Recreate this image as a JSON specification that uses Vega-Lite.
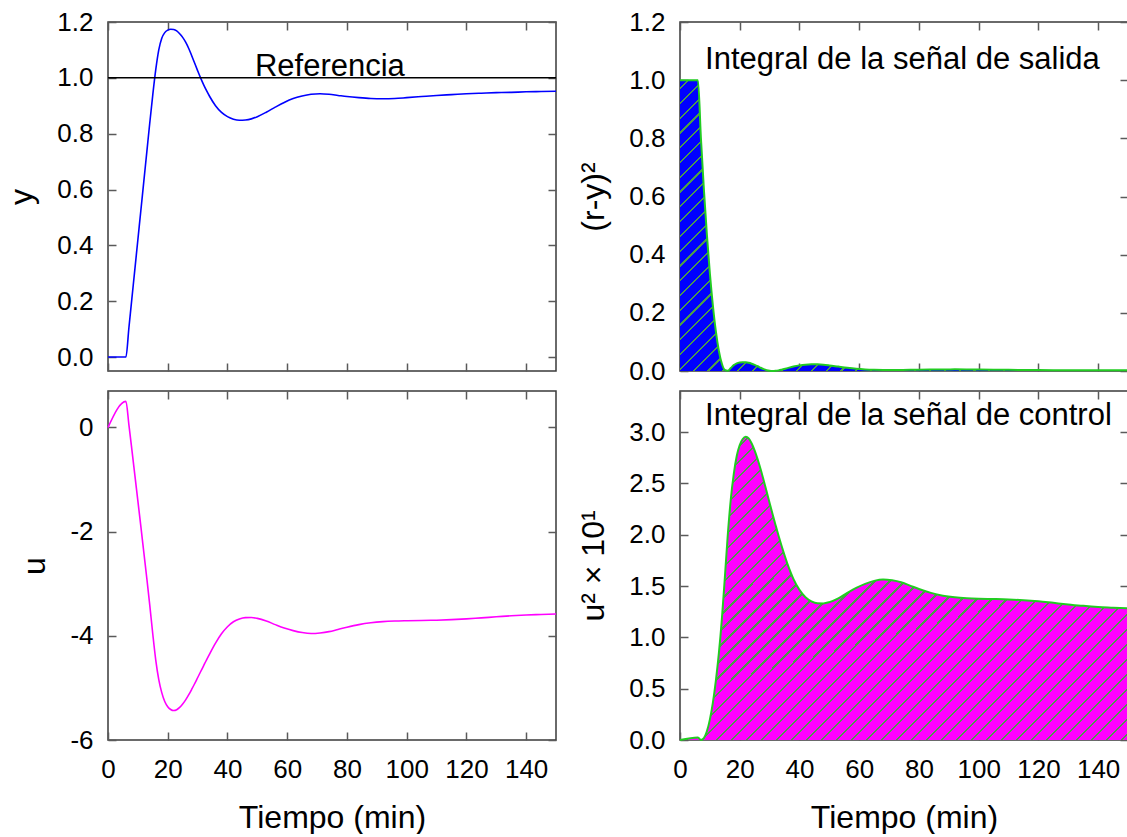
{
  "$schema": "https://vega.github.io/schema/vega-lite/v6.json",
  "background": "white",
  "padding": {"left": 5, "top": 8, "right": 0, "bottom": 0},
  "config": {
    "font": "Liberation Sans",
    "view": {"stroke": "#3a3a3a", "strokeWidth": 1.5},
    "axis": {
      "domain": false, "grid": false, "ticks": true, "tickSize": 8, "offset": -8, "tickColor": "#5a5a5a", "tickWidth": 1.5,
      "labelFont": "Liberation Sans", "labelFontSize": 26, "labelColor": "#000000", "labelPadding": 15,
      "labelFlush": false, "labelOverlap": false, "labelBound": false,
      "titleFont": "Liberation Sans", "titleFontSize": 32, "titleFontWeight": "normal", "titleColor": "#000000", "titlePadding": 18
    },
    "axisX": {"labelPadding": 16, "titlePadding": 20},
    "text": {"font": "Liberation Sans"}
  },
  "datasets": {
    "resp": [
      {"t": 0, "y": 0, "e2": 1, "u": 0, "u2": 0},
      {"t": 6, "y": 0, "e2": 1, "u": 0.5, "u2": 0.025},
      {"t": 7, "y": 0.105, "e2": 0.801, "u": 0.05, "u2": 0.0003},
      {"t": 8, "y": 0.21, "e2": 0.624, "u": -0.43, "u2": 0.0185},
      {"t": 9, "y": 0.315, "e2": 0.469, "u": -0.92, "u2": 0.0846},
      {"t": 10, "y": 0.42, "e2": 0.336, "u": -1.41, "u2": 0.1988},
      {"t": 11, "y": 0.525, "e2": 0.226, "u": -1.9, "u2": 0.361},
      {"t": 12, "y": 0.63, "e2": 0.137, "u": -2.4, "u2": 0.576},
      {"t": 13, "y": 0.735, "e2": 0.07, "u": -2.9, "u2": 0.841},
      {"t": 14, "y": 0.84, "e2": 0.0256, "u": -3.42, "u2": 1.17},
      {"t": 15, "y": 0.94, "e2": 0.0036, "u": -3.97, "u2": 1.576},
      {"t": 16, "y": 1.03, "e2": 0.0009, "u": -4.47, "u2": 1.998},
      {"t": 17, "y": 1.1, "e2": 0.01, "u": -4.84, "u2": 2.343},
      {"t": 18, "y": 1.142, "e2": 0.0202, "u": -5.09, "u2": 2.591},
      {"t": 19, "y": 1.162, "e2": 0.0262, "u": -5.26, "u2": 2.767},
      {"t": 20, "y": 1.171, "e2": 0.0292, "u": -5.36, "u2": 2.873},
      {"t": 21, "y": 1.174, "e2": 0.0303, "u": -5.415, "u2": 2.932},
      {"t": 22, "y": 1.173, "e2": 0.0299, "u": -5.435, "u2": 2.954},
      {"t": 23, "y": 1.168, "e2": 0.0282, "u": -5.42, "u2": 2.938},
      {"t": 24, "y": 1.158, "e2": 0.025, "u": -5.375, "u2": 2.889},
      {"t": 25, "y": 1.145, "e2": 0.021, "u": -5.31, "u2": 2.82},
      {"t": 26, "y": 1.128, "e2": 0.0164, "u": -5.23, "u2": 2.735},
      {"t": 27, "y": 1.106, "e2": 0.0112, "u": -5.135, "u2": 2.637},
      {"t": 28, "y": 1.08, "e2": 0.0064, "u": -5.03, "u2": 2.53},
      {"t": 29, "y": 1.053, "e2": 0.0028, "u": -4.92, "u2": 2.421},
      {"t": 30, "y": 1.026, "e2": 0.0007, "u": -4.805, "u2": 2.309},
      {"t": 31, "y": 1.0, "e2": 0, "u": -4.69, "u2": 2.2},
      {"t": 32, "y": 0.976, "e2": 0.0006, "u": -4.575, "u2": 2.093},
      {"t": 33, "y": 0.954, "e2": 0.0021, "u": -4.46, "u2": 1.989},
      {"t": 34, "y": 0.934, "e2": 0.0044, "u": -4.35, "u2": 1.892},
      {"t": 36, "y": 0.9, "e2": 0.01, "u": -4.14, "u2": 1.714},
      {"t": 38, "y": 0.876, "e2": 0.0154, "u": -3.96, "u2": 1.568},
      {"t": 40, "y": 0.861, "e2": 0.0193, "u": -3.825, "u2": 1.463},
      {"t": 42, "y": 0.852, "e2": 0.0219, "u": -3.73, "u2": 1.391},
      {"t": 44, "y": 0.848, "e2": 0.0231, "u": -3.675, "u2": 1.351},
      {"t": 46, "y": 0.849, "e2": 0.0228, "u": -3.65, "u2": 1.332},
      {"t": 48, "y": 0.853, "e2": 0.0216, "u": -3.648, "u2": 1.331},
      {"t": 50, "y": 0.861, "e2": 0.0193, "u": -3.665, "u2": 1.343},
      {"t": 53, "y": 0.877, "e2": 0.0151, "u": -3.715, "u2": 1.38},
      {"t": 56, "y": 0.895, "e2": 0.011, "u": -3.785, "u2": 1.433},
      {"t": 59, "y": 0.912, "e2": 0.0077, "u": -3.85, "u2": 1.482},
      {"t": 62, "y": 0.926, "e2": 0.0055, "u": -3.9, "u2": 1.521},
      {"t": 65, "y": 0.935, "e2": 0.0042, "u": -3.937, "u2": 1.55},
      {"t": 68, "y": 0.941, "e2": 0.0035, "u": -3.955, "u2": 1.564},
      {"t": 71, "y": 0.943, "e2": 0.0032, "u": -3.945, "u2": 1.556},
      {"t": 74, "y": 0.941, "e2": 0.0035, "u": -3.92, "u2": 1.537},
      {"t": 77, "y": 0.937, "e2": 0.004, "u": -3.878, "u2": 1.504},
      {"t": 80, "y": 0.933, "e2": 0.0045, "u": -3.835, "u2": 1.471},
      {"t": 84, "y": 0.929, "e2": 0.005, "u": -3.785, "u2": 1.433},
      {"t": 88, "y": 0.926, "e2": 0.0055, "u": -3.75, "u2": 1.406},
      {"t": 92, "y": 0.925, "e2": 0.0056, "u": -3.728, "u2": 1.39},
      {"t": 96, "y": 0.926, "e2": 0.0055, "u": -3.716, "u2": 1.381},
      {"t": 100, "y": 0.929, "e2": 0.005, "u": -3.71, "u2": 1.376},
      {"t": 105, "y": 0.933, "e2": 0.0045, "u": -3.705, "u2": 1.373},
      {"t": 110, "y": 0.937, "e2": 0.004, "u": -3.7, "u2": 1.369},
      {"t": 115, "y": 0.94, "e2": 0.0036, "u": -3.69, "u2": 1.362},
      {"t": 120, "y": 0.943, "e2": 0.0032, "u": -3.675, "u2": 1.351},
      {"t": 125, "y": 0.945, "e2": 0.003, "u": -3.655, "u2": 1.336},
      {"t": 130, "y": 0.947, "e2": 0.0028, "u": -3.635, "u2": 1.321},
      {"t": 135, "y": 0.948, "e2": 0.0027, "u": -3.615, "u2": 1.307},
      {"t": 140, "y": 0.95, "e2": 0.0025, "u": -3.6, "u2": 1.296},
      {"t": 145, "y": 0.951, "e2": 0.0024, "u": -3.59, "u2": 1.289},
      {"t": 150, "y": 0.952, "e2": 0.0023, "u": -3.58, "u2": 1.282}
    ]
  },
  "columns": 2,
  "bounds": "flush",
  "spacing": {"row": 20, "column": 124},
  "concat": [
    {
      "width": 448, "height": 349,
      "data": {"name": "resp"},
      "layer": [
        {
          "mark": {"type": "line", "color": "#0000ff", "strokeWidth": 1.6, "interpolate": "monotone"},
          "encoding": {
            "x": {"field": "t", "type": "quantitative", "scale": {"domain": [0, 150], "nice": false, "zero": false},
                  "axis": {"orient": "bottom", "values": [0, 20, 40, 60, 80, 100, 120, 140], "labels": false, "title": null}},
            "y": {"field": "y", "type": "quantitative", "scale": {"domain": [-0.05, 1.2], "nice": false, "zero": false},
                  "axis": {"orient": "left", "values": [0, 0.2, 0.4, 0.6, 0.8, 1, 1.2], "format": ".1f", "title": "y"}}
          }
        },
        {
          "data": {"values": [{}]},
          "mark": {"type": "rule", "color": "#000000", "strokeWidth": 1.5},
          "encoding": {"y": {"datum": 1, "type": "quantitative", "axis": null}}
        },
        {
          "data": {"values": [{}]},
          "mark": {"type": "text", "align": "left", "baseline": "alphabetic", "dy": -2, "fontSize": 31, "color": "#000000"},
          "encoding": {
            "x": {"datum": 49.2, "type": "quantitative", "axis": null},
            "y": {"datum": 1, "type": "quantitative", "axis": null},
            "text": {"value": "Referencia"}
          }
        },
        {
          "mark": {"type": "line", "strokeOpacity": 0},
          "encoding": {
            "x": {"field": "t", "type": "quantitative", "axis": {"orient": "top", "values": [0, 20, 40, 60, 80, 100, 120, 140], "labels": false, "title": null}},
            "y": {"field": "y", "type": "quantitative", "axis": {"orient": "right", "values": [0, 0.2, 0.4, 0.6, 0.8, 1, 1.2], "labels": false, "title": null}}
          }
        }
      ],
      "resolve": {"axis": {"x": "independent", "y": "independent"}}
    },
    {
      "width": 448, "height": 349,
      "data": {"name": "resp"},
      "layer": [
        {
          "mark": {"type": "area", "interpolate": "monotone", "opacity": 1, "stroke": null,
            "fill": {"gradient": "linear", "x1": 0, "y1": 0, "x2": 1.1602, "y2": 0.7531, "stops": [
              {"offset": 0, "color": "#0000ff"},
              {"offset": 0.01, "color": "#0000ff"}, {"offset": 0.01, "color": "#4c9a4c"}, {"offset": 0.013, "color": "#4c9a4c"}, {"offset": 0.013, "color": "#0000ff"},
              {"offset": 0.03, "color": "#0000ff"}, {"offset": 0.03, "color": "#4c9a4c"}, {"offset": 0.033, "color": "#4c9a4c"}, {"offset": 0.033, "color": "#0000ff"},
              {"offset": 0.05, "color": "#0000ff"}, {"offset": 0.05, "color": "#4c9a4c"}, {"offset": 0.053, "color": "#4c9a4c"}, {"offset": 0.053, "color": "#0000ff"},
              {"offset": 0.07, "color": "#0000ff"}, {"offset": 0.07, "color": "#4c9a4c"}, {"offset": 0.073, "color": "#4c9a4c"}, {"offset": 0.073, "color": "#0000ff"},
              {"offset": 0.09, "color": "#0000ff"}, {"offset": 0.09, "color": "#4c9a4c"}, {"offset": 0.093, "color": "#4c9a4c"}, {"offset": 0.093, "color": "#0000ff"},
              {"offset": 0.11, "color": "#0000ff"}, {"offset": 0.11, "color": "#4c9a4c"}, {"offset": 0.113, "color": "#4c9a4c"}, {"offset": 0.113, "color": "#0000ff"},
              {"offset": 0.13, "color": "#0000ff"}, {"offset": 0.13, "color": "#4c9a4c"}, {"offset": 0.133, "color": "#4c9a4c"}, {"offset": 0.133, "color": "#0000ff"},
              {"offset": 0.15, "color": "#0000ff"}, {"offset": 0.15, "color": "#4c9a4c"}, {"offset": 0.153, "color": "#4c9a4c"}, {"offset": 0.153, "color": "#0000ff"},
              {"offset": 0.17, "color": "#0000ff"}, {"offset": 0.17, "color": "#4c9a4c"}, {"offset": 0.173, "color": "#4c9a4c"}, {"offset": 0.173, "color": "#0000ff"},
              {"offset": 0.19, "color": "#0000ff"}, {"offset": 0.19, "color": "#4c9a4c"}, {"offset": 0.193, "color": "#4c9a4c"}, {"offset": 0.193, "color": "#0000ff"},
              {"offset": 0.21, "color": "#0000ff"}, {"offset": 0.21, "color": "#4c9a4c"}, {"offset": 0.213, "color": "#4c9a4c"}, {"offset": 0.213, "color": "#0000ff"},
              {"offset": 0.23, "color": "#0000ff"}, {"offset": 0.23, "color": "#4c9a4c"}, {"offset": 0.233, "color": "#4c9a4c"}, {"offset": 0.233, "color": "#0000ff"},
              {"offset": 0.25, "color": "#0000ff"}, {"offset": 0.25, "color": "#4c9a4c"}, {"offset": 0.253, "color": "#4c9a4c"}, {"offset": 0.253, "color": "#0000ff"},
              {"offset": 0.27, "color": "#0000ff"}, {"offset": 0.27, "color": "#4c9a4c"}, {"offset": 0.273, "color": "#4c9a4c"}, {"offset": 0.273, "color": "#0000ff"},
              {"offset": 0.29, "color": "#0000ff"}, {"offset": 0.29, "color": "#4c9a4c"}, {"offset": 0.293, "color": "#4c9a4c"}, {"offset": 0.293, "color": "#0000ff"},
              {"offset": 0.31, "color": "#0000ff"}, {"offset": 0.31, "color": "#4c9a4c"}, {"offset": 0.313, "color": "#4c9a4c"}, {"offset": 0.313, "color": "#0000ff"},
              {"offset": 0.33, "color": "#0000ff"}, {"offset": 0.33, "color": "#4c9a4c"}, {"offset": 0.333, "color": "#4c9a4c"}, {"offset": 0.333, "color": "#0000ff"},
              {"offset": 0.35, "color": "#0000ff"}, {"offset": 0.35, "color": "#4c9a4c"}, {"offset": 0.353, "color": "#4c9a4c"}, {"offset": 0.353, "color": "#0000ff"},
              {"offset": 0.37, "color": "#0000ff"}, {"offset": 0.37, "color": "#4c9a4c"}, {"offset": 0.373, "color": "#4c9a4c"}, {"offset": 0.373, "color": "#0000ff"},
              {"offset": 0.39, "color": "#0000ff"}, {"offset": 0.39, "color": "#4c9a4c"}, {"offset": 0.393, "color": "#4c9a4c"}, {"offset": 0.393, "color": "#0000ff"},
              {"offset": 0.41, "color": "#0000ff"}, {"offset": 0.41, "color": "#4c9a4c"}, {"offset": 0.413, "color": "#4c9a4c"}, {"offset": 0.413, "color": "#0000ff"},
              {"offset": 0.43, "color": "#0000ff"}, {"offset": 0.43, "color": "#4c9a4c"}, {"offset": 0.433, "color": "#4c9a4c"}, {"offset": 0.433, "color": "#0000ff"},
              {"offset": 0.45, "color": "#0000ff"}, {"offset": 0.45, "color": "#4c9a4c"}, {"offset": 0.453, "color": "#4c9a4c"}, {"offset": 0.453, "color": "#0000ff"},
              {"offset": 0.47, "color": "#0000ff"}, {"offset": 0.47, "color": "#4c9a4c"}, {"offset": 0.473, "color": "#4c9a4c"}, {"offset": 0.473, "color": "#0000ff"},
              {"offset": 0.49, "color": "#0000ff"}, {"offset": 0.49, "color": "#4c9a4c"}, {"offset": 0.493, "color": "#4c9a4c"}, {"offset": 0.493, "color": "#0000ff"},
              {"offset": 0.51, "color": "#0000ff"}, {"offset": 0.51, "color": "#4c9a4c"}, {"offset": 0.513, "color": "#4c9a4c"}, {"offset": 0.513, "color": "#0000ff"},
              {"offset": 0.53, "color": "#0000ff"}, {"offset": 0.53, "color": "#4c9a4c"}, {"offset": 0.533, "color": "#4c9a4c"}, {"offset": 0.533, "color": "#0000ff"},
              {"offset": 0.55, "color": "#0000ff"}, {"offset": 0.55, "color": "#4c9a4c"}, {"offset": 0.553, "color": "#4c9a4c"}, {"offset": 0.553, "color": "#0000ff"},
              {"offset": 0.57, "color": "#0000ff"}, {"offset": 0.57, "color": "#4c9a4c"}, {"offset": 0.573, "color": "#4c9a4c"}, {"offset": 0.573, "color": "#0000ff"},
              {"offset": 0.59, "color": "#0000ff"}, {"offset": 0.59, "color": "#4c9a4c"}, {"offset": 0.593, "color": "#4c9a4c"}, {"offset": 0.593, "color": "#0000ff"},
              {"offset": 0.61, "color": "#0000ff"}, {"offset": 0.61, "color": "#4c9a4c"}, {"offset": 0.613, "color": "#4c9a4c"}, {"offset": 0.613, "color": "#0000ff"},
              {"offset": 0.63, "color": "#0000ff"}, {"offset": 0.63, "color": "#4c9a4c"}, {"offset": 0.633, "color": "#4c9a4c"}, {"offset": 0.633, "color": "#0000ff"},
              {"offset": 0.65, "color": "#0000ff"}, {"offset": 0.65, "color": "#4c9a4c"}, {"offset": 0.653, "color": "#4c9a4c"}, {"offset": 0.653, "color": "#0000ff"},
              {"offset": 0.67, "color": "#0000ff"}, {"offset": 0.67, "color": "#4c9a4c"}, {"offset": 0.673, "color": "#4c9a4c"}, {"offset": 0.673, "color": "#0000ff"},
              {"offset": 0.69, "color": "#0000ff"}, {"offset": 0.69, "color": "#4c9a4c"}, {"offset": 0.693, "color": "#4c9a4c"}, {"offset": 0.693, "color": "#0000ff"},
              {"offset": 0.71, "color": "#0000ff"}, {"offset": 0.71, "color": "#4c9a4c"}, {"offset": 0.713, "color": "#4c9a4c"}, {"offset": 0.713, "color": "#0000ff"},
              {"offset": 0.73, "color": "#0000ff"}, {"offset": 0.73, "color": "#4c9a4c"}, {"offset": 0.733, "color": "#4c9a4c"}, {"offset": 0.733, "color": "#0000ff"},
              {"offset": 0.75, "color": "#0000ff"}, {"offset": 0.75, "color": "#4c9a4c"}, {"offset": 0.753, "color": "#4c9a4c"}, {"offset": 0.753, "color": "#0000ff"},
              {"offset": 0.77, "color": "#0000ff"}, {"offset": 0.77, "color": "#4c9a4c"}, {"offset": 0.773, "color": "#4c9a4c"}, {"offset": 0.773, "color": "#0000ff"},
              {"offset": 0.79, "color": "#0000ff"}, {"offset": 0.79, "color": "#4c9a4c"}, {"offset": 0.793, "color": "#4c9a4c"}, {"offset": 0.793, "color": "#0000ff"},
              {"offset": 0.81, "color": "#0000ff"}, {"offset": 0.81, "color": "#4c9a4c"}, {"offset": 0.813, "color": "#4c9a4c"}, {"offset": 0.813, "color": "#0000ff"},
              {"offset": 0.83, "color": "#0000ff"}, {"offset": 0.83, "color": "#4c9a4c"}, {"offset": 0.833, "color": "#4c9a4c"}, {"offset": 0.833, "color": "#0000ff"},
              {"offset": 0.85, "color": "#0000ff"}, {"offset": 0.85, "color": "#4c9a4c"}, {"offset": 0.853, "color": "#4c9a4c"}, {"offset": 0.853, "color": "#0000ff"},
              {"offset": 0.87, "color": "#0000ff"}, {"offset": 0.87, "color": "#4c9a4c"}, {"offset": 0.873, "color": "#4c9a4c"}, {"offset": 0.873, "color": "#0000ff"},
              {"offset": 0.89, "color": "#0000ff"}, {"offset": 0.89, "color": "#4c9a4c"}, {"offset": 0.893, "color": "#4c9a4c"}, {"offset": 0.893, "color": "#0000ff"},
              {"offset": 0.91, "color": "#0000ff"}, {"offset": 0.91, "color": "#4c9a4c"}, {"offset": 0.913, "color": "#4c9a4c"}, {"offset": 0.913, "color": "#0000ff"},
              {"offset": 0.93, "color": "#0000ff"}, {"offset": 0.93, "color": "#4c9a4c"}, {"offset": 0.933, "color": "#4c9a4c"}, {"offset": 0.933, "color": "#0000ff"},
              {"offset": 0.95, "color": "#0000ff"}, {"offset": 0.95, "color": "#4c9a4c"}, {"offset": 0.953, "color": "#4c9a4c"}, {"offset": 0.953, "color": "#0000ff"},
              {"offset": 0.97, "color": "#0000ff"}, {"offset": 0.97, "color": "#4c9a4c"}, {"offset": 0.973, "color": "#4c9a4c"}, {"offset": 0.973, "color": "#0000ff"},
              {"offset": 0.99, "color": "#0000ff"}, {"offset": 0.99, "color": "#4c9a4c"}, {"offset": 0.993, "color": "#4c9a4c"}, {"offset": 0.993, "color": "#0000ff"},
              {"offset": 1, "color": "#0000ff"}
            ]}},
          "encoding": {
            "x": {"field": "t", "type": "quantitative", "scale": {"domain": [0, 150], "nice": false, "zero": false},
                  "axis": {"orient": "bottom", "values": [0, 20, 40, 60, 80, 100, 120, 140], "labels": false, "title": null}},
            "y": {"field": "e2", "type": "quantitative", "scale": {"domain": [0, 1.2], "nice": false},
                  "axis": {"orient": "left", "values": [0, 0.2, 0.4, 0.6, 0.8, 1, 1.2], "format": ".1f", "title": "(r-y)²"}}
          }
        },
        {
          "mark": {"type": "line", "color": "#22cc22", "strokeWidth": 2, "interpolate": "monotone"},
          "encoding": {
            "x": {"field": "t", "type": "quantitative", "axis": null},
            "y": {"field": "e2", "type": "quantitative", "axis": null}
          }
        },
        {
          "data": {"values": [{}]},
          "mark": {"type": "text", "align": "left", "baseline": "alphabetic", "fontSize": 31, "color": "#000000"},
          "encoding": {
            "x": {"datum": 8.4, "type": "quantitative", "axis": null},
            "y": {"datum": 1.04, "type": "quantitative", "axis": null},
            "text": {"value": "Integral de la señal de salida"}
          }
        },
        {
          "mark": {"type": "line", "strokeOpacity": 0},
          "encoding": {
            "x": {"field": "t", "type": "quantitative", "axis": {"orient": "top", "values": [0, 20, 40, 60, 80, 100, 120, 140], "labels": false, "title": null}},
            "y": {"field": "e2", "type": "quantitative", "axis": {"orient": "right", "values": [0, 0.2, 0.4, 0.6, 0.8, 1, 1.2], "labels": false, "title": null}}
          }
        }
      ],
      "resolve": {"axis": {"x": "independent", "y": "independent"}}
    },
    {
      "width": 448, "height": 349,
      "data": {"name": "resp"},
      "layer": [
        {
          "mark": {"type": "line", "color": "#ff00ff", "strokeWidth": 1.6, "interpolate": "monotone"},
          "encoding": {
            "x": {"field": "t", "type": "quantitative", "scale": {"domain": [0, 150], "nice": false, "zero": false},
                  "axis": {"orient": "bottom", "values": [0, 20, 40, 60, 80, 100, 120, 140], "title": "Tiempo (min)"}},
            "y": {"field": "u", "type": "quantitative", "scale": {"domain": [-6, 0.7], "nice": false, "zero": false},
                  "axis": {"orient": "left", "values": [-6, -4, -2, 0], "labelExpr": "'' + datum.value", "title": "u"}}
          }
        },
        {
          "mark": {"type": "line", "strokeOpacity": 0},
          "encoding": {
            "x": {"field": "t", "type": "quantitative", "axis": {"orient": "top", "values": [0, 20, 40, 60, 80, 100, 120, 140], "labels": false, "title": null}},
            "y": {"field": "u", "type": "quantitative", "axis": {"orient": "right", "values": [-6, -4, -2, 0], "labels": false, "title": null}}
          }
        }
      ],
      "resolve": {"axis": {"x": "independent", "y": "independent"}}
    },
    {
      "width": 448, "height": 349,
      "data": {"name": "resp"},
      "layer": [
        {
          "mark": {"type": "area", "interpolate": "monotone", "opacity": 1, "stroke": null,
            "fill": {"gradient": "linear", "x1": 0, "y1": 0, "x2": 1.1505, "y2": 0.7771, "stops": [
              {"offset": 0, "color": "#ff00ff"},
              {"offset": 0.01, "color": "#ff00ff"}, {"offset": 0.01, "color": "#4c9a4c"}, {"offset": 0.013, "color": "#4c9a4c"}, {"offset": 0.013, "color": "#ff00ff"},
              {"offset": 0.03, "color": "#ff00ff"}, {"offset": 0.03, "color": "#4c9a4c"}, {"offset": 0.033, "color": "#4c9a4c"}, {"offset": 0.033, "color": "#ff00ff"},
              {"offset": 0.05, "color": "#ff00ff"}, {"offset": 0.05, "color": "#4c9a4c"}, {"offset": 0.053, "color": "#4c9a4c"}, {"offset": 0.053, "color": "#ff00ff"},
              {"offset": 0.07, "color": "#ff00ff"}, {"offset": 0.07, "color": "#4c9a4c"}, {"offset": 0.073, "color": "#4c9a4c"}, {"offset": 0.073, "color": "#ff00ff"},
              {"offset": 0.09, "color": "#ff00ff"}, {"offset": 0.09, "color": "#4c9a4c"}, {"offset": 0.093, "color": "#4c9a4c"}, {"offset": 0.093, "color": "#ff00ff"},
              {"offset": 0.11, "color": "#ff00ff"}, {"offset": 0.11, "color": "#4c9a4c"}, {"offset": 0.113, "color": "#4c9a4c"}, {"offset": 0.113, "color": "#ff00ff"},
              {"offset": 0.13, "color": "#ff00ff"}, {"offset": 0.13, "color": "#4c9a4c"}, {"offset": 0.133, "color": "#4c9a4c"}, {"offset": 0.133, "color": "#ff00ff"},
              {"offset": 0.15, "color": "#ff00ff"}, {"offset": 0.15, "color": "#4c9a4c"}, {"offset": 0.153, "color": "#4c9a4c"}, {"offset": 0.153, "color": "#ff00ff"},
              {"offset": 0.17, "color": "#ff00ff"}, {"offset": 0.17, "color": "#4c9a4c"}, {"offset": 0.173, "color": "#4c9a4c"}, {"offset": 0.173, "color": "#ff00ff"},
              {"offset": 0.19, "color": "#ff00ff"}, {"offset": 0.19, "color": "#4c9a4c"}, {"offset": 0.193, "color": "#4c9a4c"}, {"offset": 0.193, "color": "#ff00ff"},
              {"offset": 0.21, "color": "#ff00ff"}, {"offset": 0.21, "color": "#4c9a4c"}, {"offset": 0.213, "color": "#4c9a4c"}, {"offset": 0.213, "color": "#ff00ff"},
              {"offset": 0.23, "color": "#ff00ff"}, {"offset": 0.23, "color": "#4c9a4c"}, {"offset": 0.233, "color": "#4c9a4c"}, {"offset": 0.233, "color": "#ff00ff"},
              {"offset": 0.25, "color": "#ff00ff"}, {"offset": 0.25, "color": "#4c9a4c"}, {"offset": 0.253, "color": "#4c9a4c"}, {"offset": 0.253, "color": "#ff00ff"},
              {"offset": 0.27, "color": "#ff00ff"}, {"offset": 0.27, "color": "#4c9a4c"}, {"offset": 0.273, "color": "#4c9a4c"}, {"offset": 0.273, "color": "#ff00ff"},
              {"offset": 0.29, "color": "#ff00ff"}, {"offset": 0.29, "color": "#4c9a4c"}, {"offset": 0.293, "color": "#4c9a4c"}, {"offset": 0.293, "color": "#ff00ff"},
              {"offset": 0.31, "color": "#ff00ff"}, {"offset": 0.31, "color": "#4c9a4c"}, {"offset": 0.313, "color": "#4c9a4c"}, {"offset": 0.313, "color": "#ff00ff"},
              {"offset": 0.33, "color": "#ff00ff"}, {"offset": 0.33, "color": "#4c9a4c"}, {"offset": 0.333, "color": "#4c9a4c"}, {"offset": 0.333, "color": "#ff00ff"},
              {"offset": 0.35, "color": "#ff00ff"}, {"offset": 0.35, "color": "#4c9a4c"}, {"offset": 0.353, "color": "#4c9a4c"}, {"offset": 0.353, "color": "#ff00ff"},
              {"offset": 0.37, "color": "#ff00ff"}, {"offset": 0.37, "color": "#4c9a4c"}, {"offset": 0.373, "color": "#4c9a4c"}, {"offset": 0.373, "color": "#ff00ff"},
              {"offset": 0.39, "color": "#ff00ff"}, {"offset": 0.39, "color": "#4c9a4c"}, {"offset": 0.393, "color": "#4c9a4c"}, {"offset": 0.393, "color": "#ff00ff"},
              {"offset": 0.41, "color": "#ff00ff"}, {"offset": 0.41, "color": "#4c9a4c"}, {"offset": 0.413, "color": "#4c9a4c"}, {"offset": 0.413, "color": "#ff00ff"},
              {"offset": 0.43, "color": "#ff00ff"}, {"offset": 0.43, "color": "#4c9a4c"}, {"offset": 0.433, "color": "#4c9a4c"}, {"offset": 0.433, "color": "#ff00ff"},
              {"offset": 0.45, "color": "#ff00ff"}, {"offset": 0.45, "color": "#4c9a4c"}, {"offset": 0.453, "color": "#4c9a4c"}, {"offset": 0.453, "color": "#ff00ff"},
              {"offset": 0.47, "color": "#ff00ff"}, {"offset": 0.47, "color": "#4c9a4c"}, {"offset": 0.473, "color": "#4c9a4c"}, {"offset": 0.473, "color": "#ff00ff"},
              {"offset": 0.49, "color": "#ff00ff"}, {"offset": 0.49, "color": "#4c9a4c"}, {"offset": 0.493, "color": "#4c9a4c"}, {"offset": 0.493, "color": "#ff00ff"},
              {"offset": 0.51, "color": "#ff00ff"}, {"offset": 0.51, "color": "#4c9a4c"}, {"offset": 0.513, "color": "#4c9a4c"}, {"offset": 0.513, "color": "#ff00ff"},
              {"offset": 0.53, "color": "#ff00ff"}, {"offset": 0.53, "color": "#4c9a4c"}, {"offset": 0.533, "color": "#4c9a4c"}, {"offset": 0.533, "color": "#ff00ff"},
              {"offset": 0.55, "color": "#ff00ff"}, {"offset": 0.55, "color": "#4c9a4c"}, {"offset": 0.553, "color": "#4c9a4c"}, {"offset": 0.553, "color": "#ff00ff"},
              {"offset": 0.57, "color": "#ff00ff"}, {"offset": 0.57, "color": "#4c9a4c"}, {"offset": 0.573, "color": "#4c9a4c"}, {"offset": 0.573, "color": "#ff00ff"},
              {"offset": 0.59, "color": "#ff00ff"}, {"offset": 0.59, "color": "#4c9a4c"}, {"offset": 0.593, "color": "#4c9a4c"}, {"offset": 0.593, "color": "#ff00ff"},
              {"offset": 0.61, "color": "#ff00ff"}, {"offset": 0.61, "color": "#4c9a4c"}, {"offset": 0.613, "color": "#4c9a4c"}, {"offset": 0.613, "color": "#ff00ff"},
              {"offset": 0.63, "color": "#ff00ff"}, {"offset": 0.63, "color": "#4c9a4c"}, {"offset": 0.633, "color": "#4c9a4c"}, {"offset": 0.633, "color": "#ff00ff"},
              {"offset": 0.65, "color": "#ff00ff"}, {"offset": 0.65, "color": "#4c9a4c"}, {"offset": 0.653, "color": "#4c9a4c"}, {"offset": 0.653, "color": "#ff00ff"},
              {"offset": 0.67, "color": "#ff00ff"}, {"offset": 0.67, "color": "#4c9a4c"}, {"offset": 0.673, "color": "#4c9a4c"}, {"offset": 0.673, "color": "#ff00ff"},
              {"offset": 0.69, "color": "#ff00ff"}, {"offset": 0.69, "color": "#4c9a4c"}, {"offset": 0.693, "color": "#4c9a4c"}, {"offset": 0.693, "color": "#ff00ff"},
              {"offset": 0.71, "color": "#ff00ff"}, {"offset": 0.71, "color": "#4c9a4c"}, {"offset": 0.713, "color": "#4c9a4c"}, {"offset": 0.713, "color": "#ff00ff"},
              {"offset": 0.73, "color": "#ff00ff"}, {"offset": 0.73, "color": "#4c9a4c"}, {"offset": 0.733, "color": "#4c9a4c"}, {"offset": 0.733, "color": "#ff00ff"},
              {"offset": 0.75, "color": "#ff00ff"}, {"offset": 0.75, "color": "#4c9a4c"}, {"offset": 0.753, "color": "#4c9a4c"}, {"offset": 0.753, "color": "#ff00ff"},
              {"offset": 0.77, "color": "#ff00ff"}, {"offset": 0.77, "color": "#4c9a4c"}, {"offset": 0.773, "color": "#4c9a4c"}, {"offset": 0.773, "color": "#ff00ff"},
              {"offset": 0.79, "color": "#ff00ff"}, {"offset": 0.79, "color": "#4c9a4c"}, {"offset": 0.793, "color": "#4c9a4c"}, {"offset": 0.793, "color": "#ff00ff"},
              {"offset": 0.81, "color": "#ff00ff"}, {"offset": 0.81, "color": "#4c9a4c"}, {"offset": 0.813, "color": "#4c9a4c"}, {"offset": 0.813, "color": "#ff00ff"},
              {"offset": 0.83, "color": "#ff00ff"}, {"offset": 0.83, "color": "#4c9a4c"}, {"offset": 0.833, "color": "#4c9a4c"}, {"offset": 0.833, "color": "#ff00ff"},
              {"offset": 0.85, "color": "#ff00ff"}, {"offset": 0.85, "color": "#4c9a4c"}, {"offset": 0.853, "color": "#4c9a4c"}, {"offset": 0.853, "color": "#ff00ff"},
              {"offset": 0.87, "color": "#ff00ff"}, {"offset": 0.87, "color": "#4c9a4c"}, {"offset": 0.873, "color": "#4c9a4c"}, {"offset": 0.873, "color": "#ff00ff"},
              {"offset": 0.89, "color": "#ff00ff"}, {"offset": 0.89, "color": "#4c9a4c"}, {"offset": 0.893, "color": "#4c9a4c"}, {"offset": 0.893, "color": "#ff00ff"},
              {"offset": 0.91, "color": "#ff00ff"}, {"offset": 0.91, "color": "#4c9a4c"}, {"offset": 0.913, "color": "#4c9a4c"}, {"offset": 0.913, "color": "#ff00ff"},
              {"offset": 0.93, "color": "#ff00ff"}, {"offset": 0.93, "color": "#4c9a4c"}, {"offset": 0.933, "color": "#4c9a4c"}, {"offset": 0.933, "color": "#ff00ff"},
              {"offset": 0.95, "color": "#ff00ff"}, {"offset": 0.95, "color": "#4c9a4c"}, {"offset": 0.953, "color": "#4c9a4c"}, {"offset": 0.953, "color": "#ff00ff"},
              {"offset": 0.97, "color": "#ff00ff"}, {"offset": 0.97, "color": "#4c9a4c"}, {"offset": 0.973, "color": "#4c9a4c"}, {"offset": 0.973, "color": "#ff00ff"},
              {"offset": 0.99, "color": "#ff00ff"}, {"offset": 0.99, "color": "#4c9a4c"}, {"offset": 0.993, "color": "#4c9a4c"}, {"offset": 0.993, "color": "#ff00ff"},
              {"offset": 1, "color": "#ff00ff"}
            ]}},
          "encoding": {
            "x": {"field": "t", "type": "quantitative", "scale": {"domain": [0, 150], "nice": false, "zero": false},
                  "axis": {"orient": "bottom", "values": [0, 20, 40, 60, 80, 100, 120, 140], "title": "Tiempo (min)"}},
            "y": {"field": "u2", "type": "quantitative", "scale": {"domain": [0, 3.4], "nice": false},
                  "axis": {"orient": "left", "values": [0, 0.5, 1, 1.5, 2, 2.5, 3], "format": ".1f", "title": "u² × 10¹"}}
          }
        },
        {
          "mark": {"type": "line", "color": "#22cc22", "strokeWidth": 2, "interpolate": "monotone"},
          "encoding": {
            "x": {"field": "t", "type": "quantitative", "axis": null},
            "y": {"field": "u2", "type": "quantitative", "axis": null}
          }
        },
        {
          "data": {"values": [{}]},
          "mark": {"type": "text", "align": "left", "baseline": "alphabetic", "fontSize": 31, "color": "#000000"},
          "encoding": {
            "x": {"datum": 8.4, "type": "quantitative", "axis": null},
            "y": {"datum": 3.07, "type": "quantitative", "axis": null},
            "text": {"value": "Integral de la señal de control"}
          }
        },
        {
          "mark": {"type": "line", "strokeOpacity": 0},
          "encoding": {
            "x": {"field": "t", "type": "quantitative", "axis": {"orient": "top", "values": [0, 20, 40, 60, 80, 100, 120, 140], "labels": false, "title": null}},
            "y": {"field": "u2", "type": "quantitative", "axis": {"orient": "right", "values": [0, 0.5, 1, 1.5, 2, 2.5, 3], "labels": false, "title": null}}
          }
        }
      ],
      "resolve": {"axis": {"x": "independent", "y": "independent"}}
    }
  ]
}
